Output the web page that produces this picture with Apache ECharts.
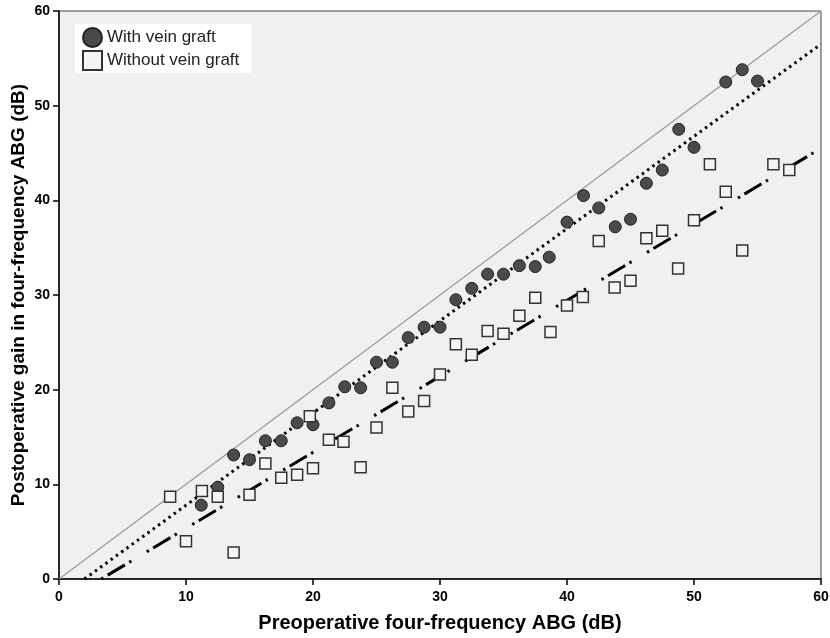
<!DOCTYPE html>
<html>
<head>
<meta charset="utf-8">
<style>
    html, body { margin: 0; padding: 0; background: #fff; }
    #chart { width: 830px; height: 638px; }
</style>
<script src="https://cdn.jsdelivr.net/npm/echarts@6/dist/echarts.min.js"></script>
</head>
<body>
<div id="chart"></div>
<script>
// with vein graft: [preop ABG, postop gain]
const withGraft = [
    [11.2, 7.8], [12.5, 9.7], [13.75, 13.1], [15.0, 12.6], [16.25, 14.6], [17.5, 14.6],
    [18.75, 16.5], [20.0, 16.3], [21.25, 18.6], [22.5, 20.3], [23.75, 20.2], [25.0, 22.9],
    [26.25, 22.9], [27.5, 25.5], [28.75, 26.6], [30.0, 26.6], [31.25, 29.5], [32.5, 30.7],
    [33.75, 32.2], [35.0, 32.2], [36.25, 33.1], [37.5, 33.0], [38.6, 34.0], [40.0, 37.7],
    [41.3, 40.5], [42.5, 39.2], [43.8, 37.2], [45.0, 38.0], [46.25, 41.8], [47.5, 43.2],
    [48.8, 47.5], [50.0, 45.6], [52.5, 52.5], [53.8, 53.8], [55.0, 52.6]
];
// without vein graft
const withoutGraft = [
    [8.75, 8.7], [10.0, 4.0], [11.25, 9.3], [12.5, 8.7], [13.75, 2.8], [15.0, 8.9],
    [16.25, 12.2], [17.5, 10.7], [18.75, 11.0], [20.0, 11.7], [19.75, 17.2], [21.25, 14.7],
    [22.4, 14.5], [23.75, 11.8], [25.0, 16.0], [26.25, 20.2], [27.5, 17.7], [28.75, 18.8],
    [30.0, 21.6], [31.25, 24.8], [32.5, 23.7], [33.75, 26.2], [35.0, 25.9], [36.25, 27.8],
    [37.5, 29.7], [38.7, 26.1], [40.0, 28.9], [41.25, 29.8], [42.5, 35.7], [43.75, 30.8],
    [45.0, 31.5], [46.25, 36.0], [47.5, 36.8], [48.75, 32.8], [50.0, 37.9], [51.25, 43.8],
    [52.5, 40.9], [53.8, 34.7], [56.25, 43.8], [57.5, 43.2]
];
// fit lines, endpoints
const identityLine = [[0, 0], [60, 60]];
const fitWith = [[2.0, 0], [60, 56.5]];
const fitWithout = [[3.33, 0], [60, 45.5]];

const xTitle = 'Preoperative four-frequency ABG (dB)';
const yTitle = 'Postoperative gain in four-frequency ABG (dB)';
const fontFam = '"Liberation Sans", Arial, sans-serif';

let myChart = echarts.init(document.getElementById('chart'));

const axisCommon = {
    type: 'value',
    min: 0,
    max: 60,
    interval: 10,
    splitLine: { show: false },
    axisLine: { show: true, onZero: false, lineStyle: { color: '#000', width: 1.5 } },
    axisTick: { show: true, length: 6, lineStyle: { color: '#000', width: 1.5 } },
    axisLabel: { color: '#000', fontWeight: 'bold', fontSize: 14, fontFamily: fontFam },
    nameLocation: 'middle',
    nameMoveOverlap: false,
    nameTextStyle: { color: '#000', fontWeight: 'bold', fontSize: 20, fontFamily: fontFam }
};

myChart.setOption({
    animation: false,
    backgroundColor: '#fff',
    grid: {
        left: 59, right: 9, top: 11, bottom: 59,
        containLabel: false,
        outerBoundsMode: 'none',
        show: true,
        backgroundColor: '#f0f0f0',
        borderColor: '#444',
        borderWidth: 1
    },
    xAxis: Object.assign({}, axisCommon, {
        name: xTitle,
        nameGap: 34,
        axisLabel: Object.assign({}, axisCommon.axisLabel, { margin: 11 })
    }),
    yAxis: Object.assign({}, axisCommon, {
        name: yTitle,
        nameGap: 31,
        nameTextStyle: Object.assign({}, axisCommon.nameTextStyle, { fontSize: 19 }),
        axisLabel: Object.assign({}, axisCommon.axisLabel, { margin: 9 })
    }),
    legend: {
        data: ['With vein graft', 'Without vein graft'],
        orient: 'vertical',
        left: 75,
        top: 24,
        padding: [3, 12, 2, 7],
        itemGap: 2,
        itemWidth: 19,
        itemHeight: 19,
        backgroundColor: '#fff',
        textStyle: { color: '#222', fontSize: 17, fontFamily: fontFam }
    },
    series: [
        {
            name: 'identity',
            type: 'line',
            data: identityLine,
            symbol: 'none',
            silent: true,
            z: 1,
            lineStyle: { color: '#999', width: 1.2 }
        },
        {
            name: 'fit with',
            type: 'line',
            data: fitWith,
            symbol: 'none',
            silent: true,
            z: 1,
            lineStyle: { color: '#000', width: 3, type: [2.5, 4] }
        },
        {
            name: 'fit without',
            type: 'line',
            data: fitWithout,
            symbol: 'none',
            silent: true,
            z: 1,
            lineStyle: { color: '#000', width: 3, type: [2.5, 5, 20, 5, 2.5, 18] }
        },
        {
            name: 'With vein graft',
            type: 'scatter',
            data: withGraft,
            symbol: 'circle',
            symbolSize: 12,
            z: 3,
            itemStyle: { color: '#4a4a4a', borderColor: '#222', borderWidth: 1, opacity: 1 }
        },
        {
            name: 'Without vein graft',
            type: 'scatter',
            data: withoutGraft,
            symbol: 'rect',
            symbolSize: 11,
            z: 3,
            itemStyle: { color: '#f4f4f4', borderColor: '#333', borderWidth: 1.5, opacity: 1 }
        }
    ]
});
</script>
</body>
</html>
